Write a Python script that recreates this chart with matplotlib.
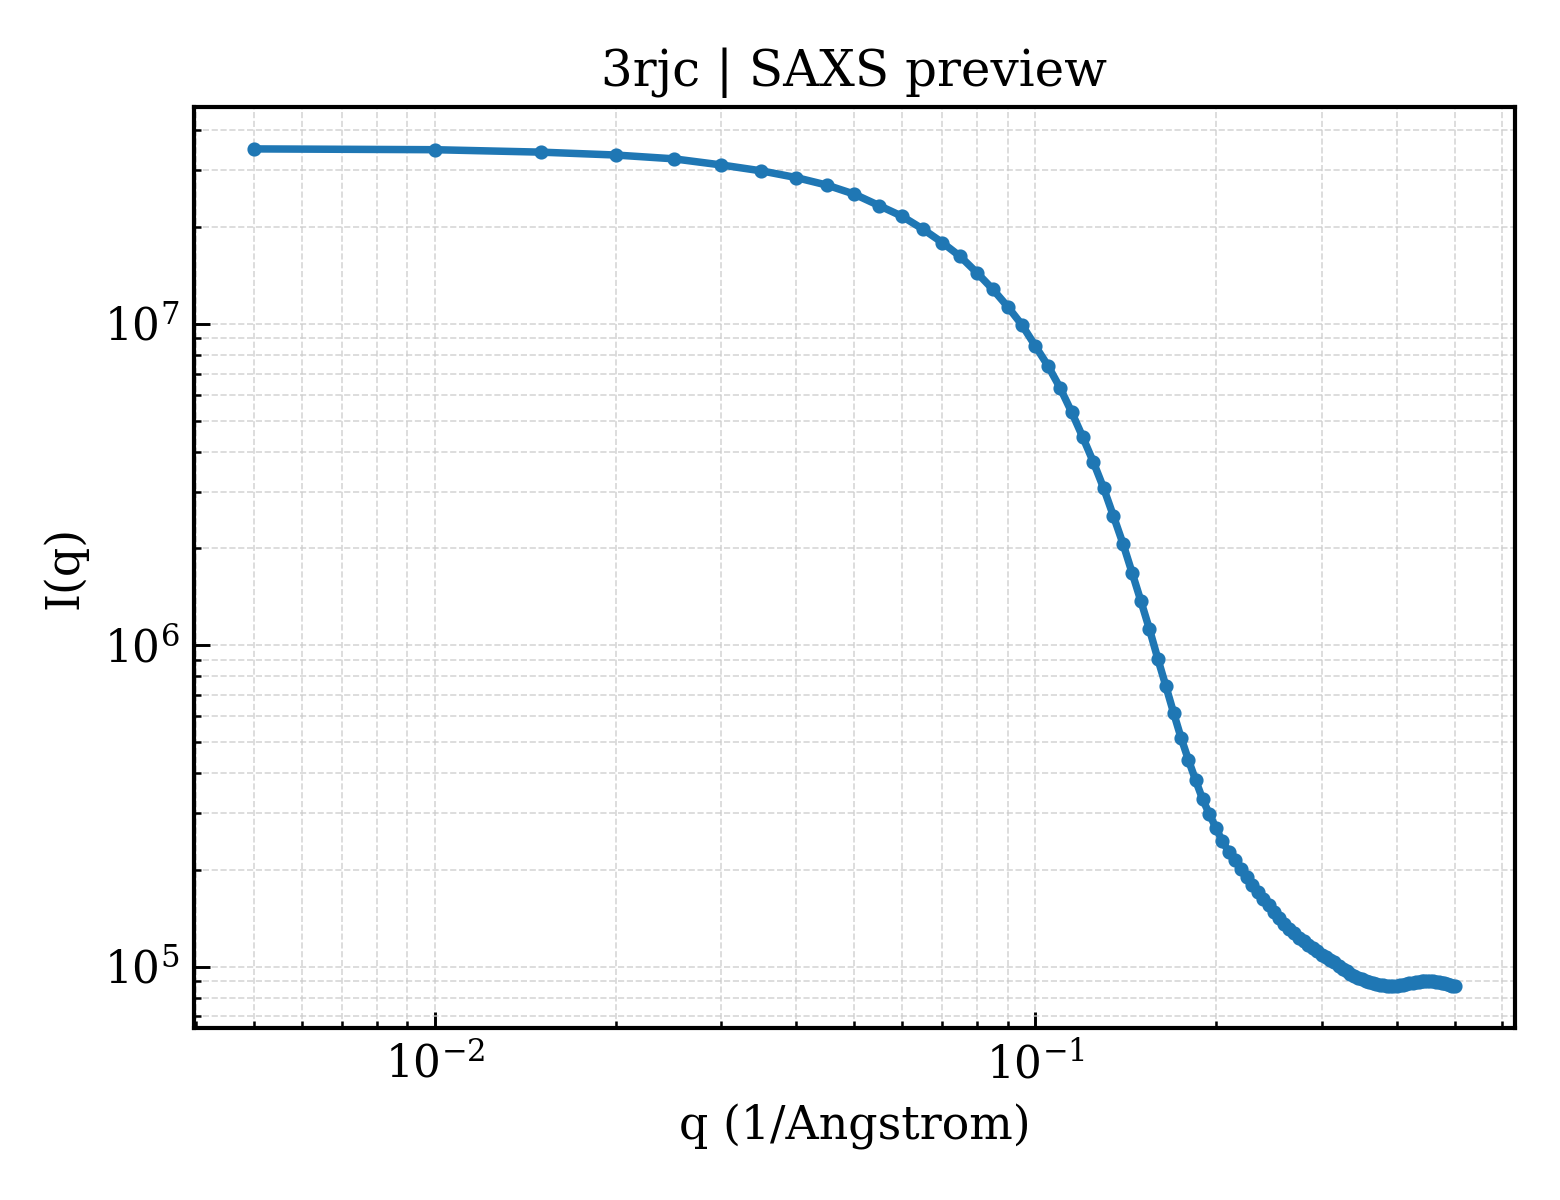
import matplotlib
matplotlib.use("Agg")
import matplotlib.pyplot as plt

# q grid (1/Angstrom) and intensities
q = [0.005, 0.010, 0.015, 0.020, 0.025, 0.030, 0.035, 0.040, 0.045, 0.050,
     0.055, 0.060, 0.065, 0.070, 0.075, 0.080, 0.085, 0.090, 0.095, 0.100,
     0.105, 0.110, 0.115, 0.120, 0.125, 0.130, 0.135, 0.140, 0.145, 0.150,
     0.155, 0.160, 0.165, 0.170, 0.175, 0.180, 0.185, 0.190, 0.195, 0.200,
     0.205, 0.210, 0.215, 0.220, 0.225, 0.230, 0.235, 0.240, 0.245, 0.250,
     0.255, 0.260, 0.265, 0.270, 0.275, 0.280, 0.285, 0.290, 0.295, 0.300,
     0.305, 0.310, 0.315, 0.320, 0.325, 0.330, 0.335, 0.340, 0.345, 0.350,
     0.355, 0.360, 0.365, 0.370, 0.375, 0.380, 0.385, 0.390, 0.395, 0.400,
     0.405, 0.410, 0.415, 0.420, 0.425, 0.430, 0.435, 0.440, 0.445, 0.450,
     0.455, 0.460, 0.465, 0.470, 0.475, 0.480, 0.485, 0.490, 0.495, 0.500]

intensity = [3.50e7, 3.48e7, 3.42e7, 3.35e7, 3.26e7, 3.12e7, 2.99e7, 2.85e7, 2.70e7, 2.53e7,
             2.33e7, 2.16e7, 1.97e7, 1.79e7, 1.62e7, 1.44e7, 1.28e7, 1.13e7, 9.93e6, 8.54e6,
             7.40e6, 6.32e6, 5.31e6, 4.44e6, 3.71e6, 3.08e6, 2.52e6, 2.07e6, 1.68e6, 1.37e6,
             1.12e6, 9.08e5, 7.47e5, 6.16e5, 5.14e5, 4.39e5, 3.80e5, 3.32e5, 2.98e5, 2.70e5,
             2.45e5, 2.28e5, 2.14e5, 2.01e5, 1.90e5, 1.80e5, 1.71e5, 1.62e5, 1.55e5, 1.48e5,
             1.42e5, 1.36e5, 1.31e5, 1.27e5, 1.23e5, 1.20e5, 1.17e5, 1.14e5, 1.12e5, 1.09e5,
             1.07e5, 1.05e5, 1.03e5, 1.007e5, 9.86e4, 9.68e4, 9.51e4, 9.37e4, 9.24e4, 9.14e4,
             9.04e4, 8.95e4, 8.88e4, 8.82e4, 8.77e4, 8.74e4, 8.72e4, 8.71e4, 8.71e4, 8.72e4,
             8.75e4, 8.78e4, 8.83e4, 8.88e4, 8.91e4, 8.95e4, 8.98e4, 9.00e4, 9.01e4, 9.01e4,
             9.01e4, 9.00e4, 8.98e4, 8.95e4, 8.91e4, 8.87e4, 8.82e4, 8.77e4, 8.72e4, 8.69e4]

title = "3rjc | SAXS preview"
xlabel = "q (1/Angstrom)"
ylabel = "I(q)"


def main():
    plt.rcParams["font.family"] = "DejaVu Serif"
    plt.rcParams["mathtext.fontset"] = "dejavuserif"

    fig = plt.figure(figsize=(5.2, 4.0), dpi=300)
    ax = fig.add_axes([0.1244, 0.1433, 0.8467, 0.7675])

    ax.plot(q, intensity, color="#1f77b4", linewidth=1.8,
            marker="o", markersize=2.4)
    ax.set_xscale("log")
    ax.set_yscale("log")

    ax.set_title(title, fontsize=12, pad=5)
    ax.set_xlabel(xlabel, fontsize=11)
    ax.set_ylabel(ylabel, fontsize=11)

    ax.grid(True, which="both", linestyle="--", linewidth=0.4, color="#cccccc", alpha=0.8)
    ax.tick_params(which="both", direction="in", labelsize=10.5)
    ax.tick_params(which="major", length=3.8, width=0.7)
    ax.tick_params(which="minor", length=1.6, width=0.6)
    for s in ax.spines.values():
        s.set_linewidth(1.0)

    fig.savefig("out.png", dpi=300)


if __name__ == '__main__':
    main()
